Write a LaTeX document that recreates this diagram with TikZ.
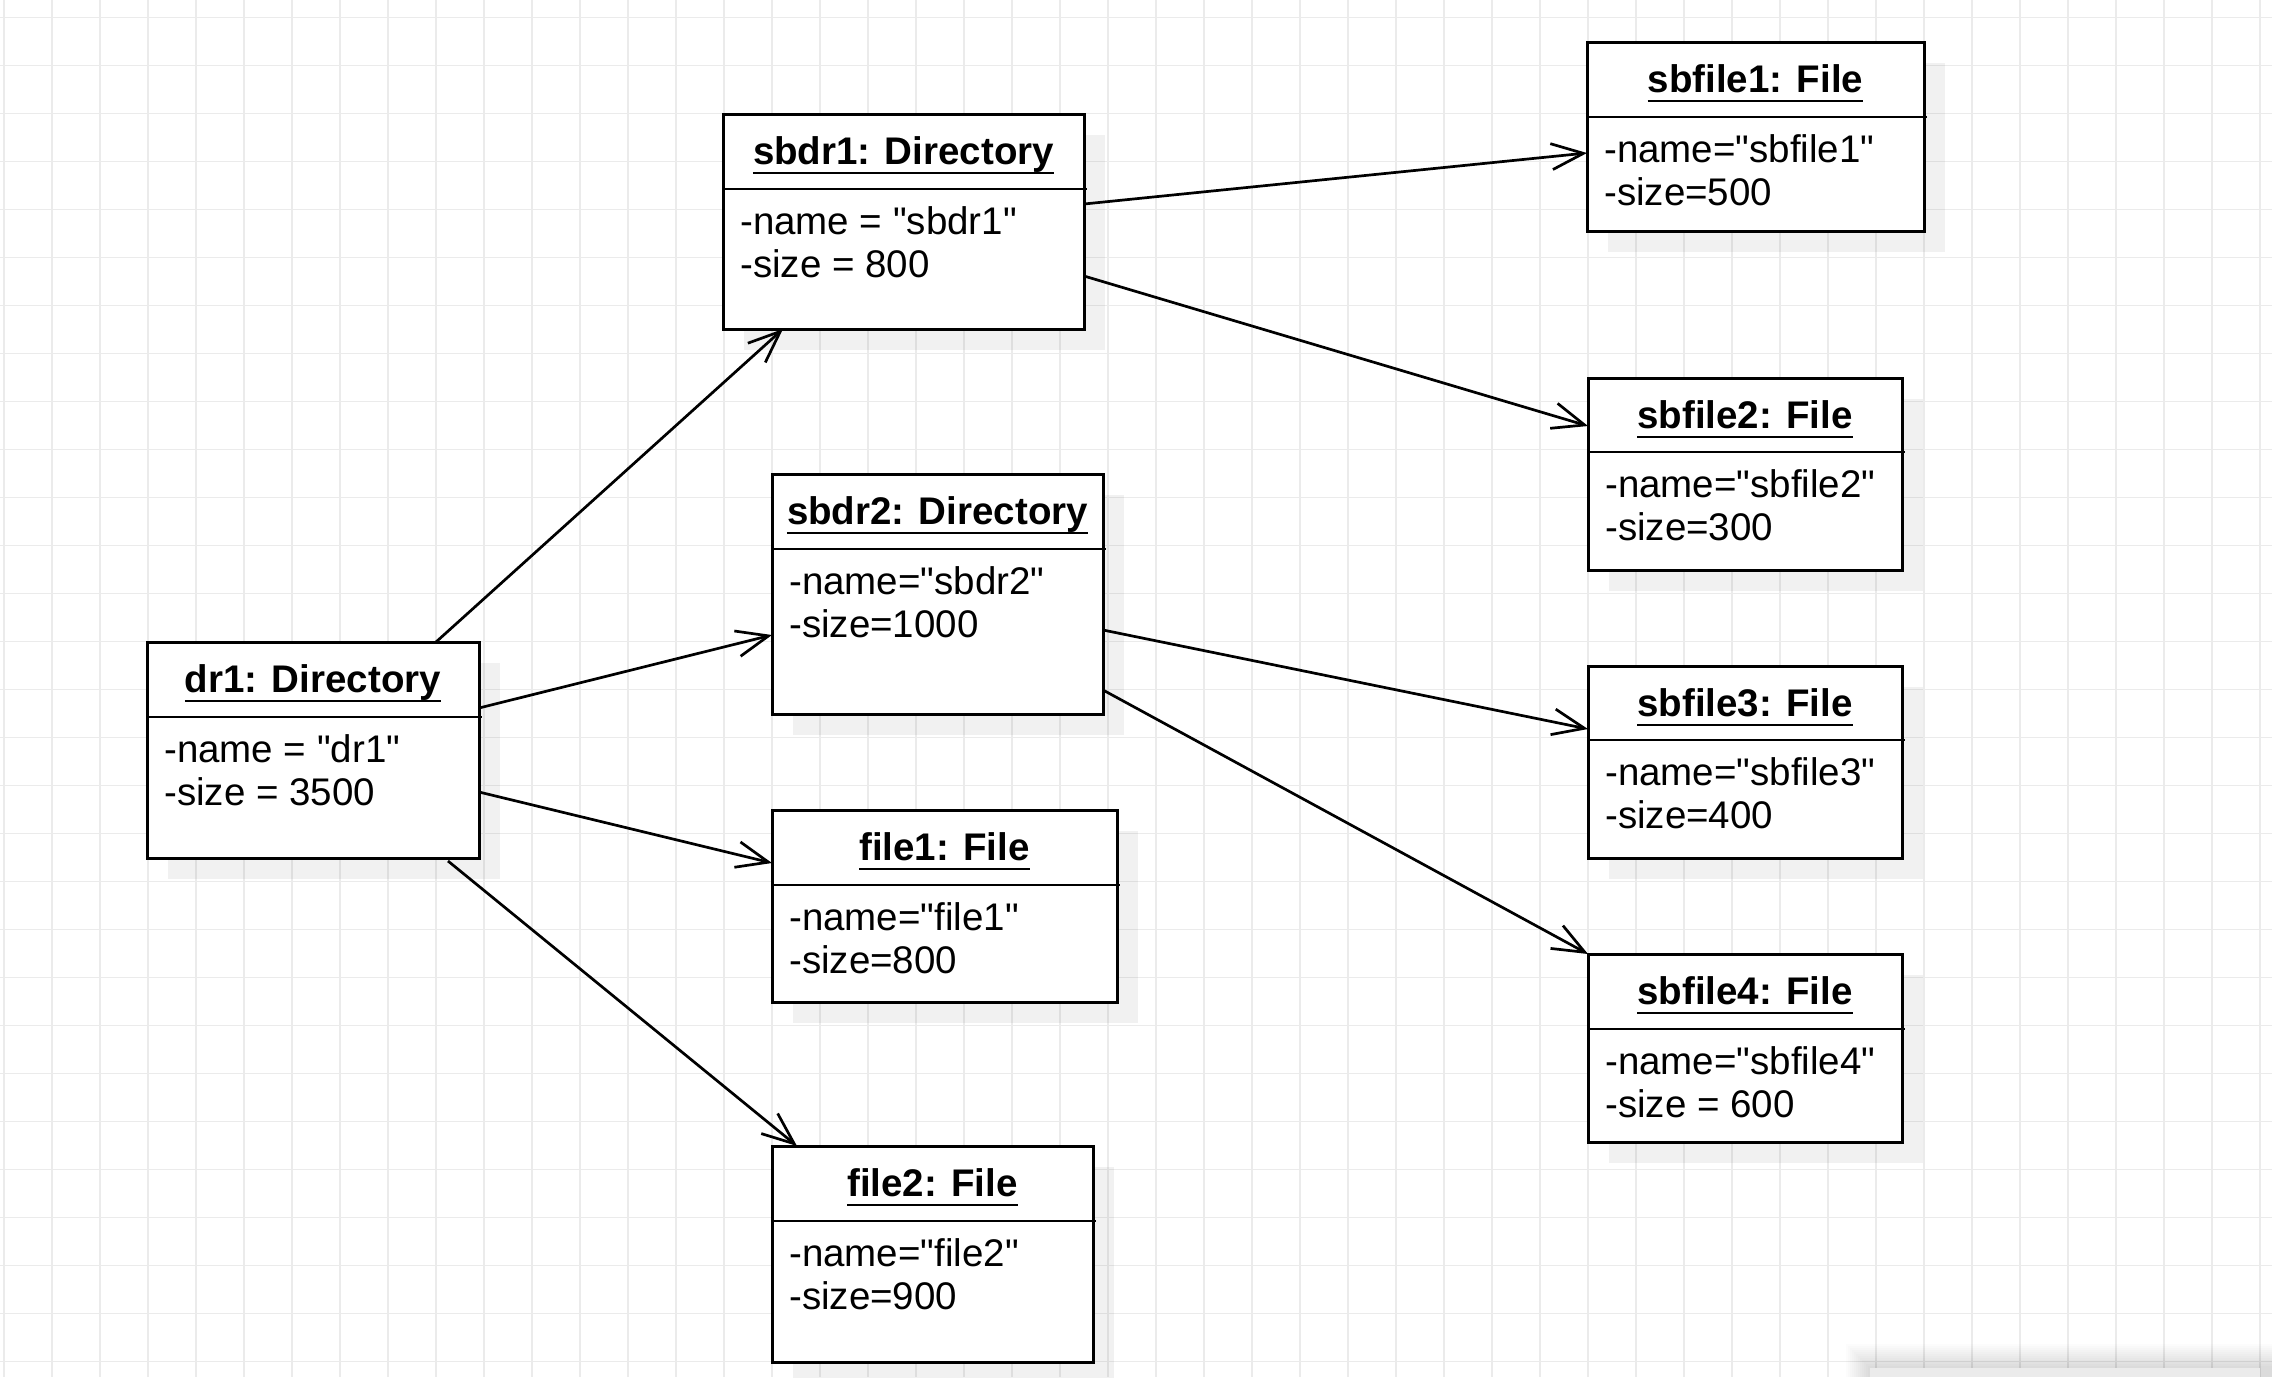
\documentclass[tikz,border=0pt]{standalone}
\usepackage{fontspec}
\setmainfont{Liberation Sans}[Ligatures=TeXOff]
\usetikzlibrary{arrows.meta}
\tikzset{
 objbox/.style={draw=black, line width=3pt, fill=white, inner sep=0pt, outer sep=0pt},
 divline/.style={line width=2.6pt},
 titletext/.style={font=\fontsize{38.5}{44}\selectfont\bfseries, inner sep=0pt, anchor=base},
 attrtext/.style={font=\fontsize{38.5}{44}\selectfont, inner sep=0pt, anchor=base west},
 uline/.style={line width=2.6pt},
 conn/.style={line width=2.7pt, -{Straight Barb[length=32pt,width=26pt]}},
 gridline/.style={draw=black!8, line width=1.4pt},
 shadowbox/.style={fill=black, fill opacity=0.055},
}
\newcommand\umlobj[9]{%
 \fill[shadowbox] (#2+21,#3+21) rectangle (#4+21,#5+21);
 \node[objbox, anchor=north west, minimum width=#4pt-#2pt, minimum height=#5pt-#3pt] (#1) at (#2,#3) {};
 \draw[divline] (#2,#6) -- (#4+3,#6);
 \node[titletext] (#1t) at ({(#2+#4)/2},#3+50.5) {#7};
 \draw[uline] ([yshift=-8.3pt]#1t.base west) -- ([yshift=-8.3pt]#1t.base east);
 \node[attrtext] (#1a) at (#2+17,#6+45) {#8};
 \node[attrtext] (#1b) at (#2+17,#6+88.3) {#9};
}
\begin{document}
\begin{tikzpicture}[x=1pt,y=-1pt]
\useasboundingbox (0,0) rectangle (2272,1377);
\fill[white] (0,0) rectangle (2272,1377);
% grid
\foreach \k in {0,...,47} \draw[gridline] (4+48*\k,0) -- (4+48*\k,1377);
\foreach \k in {0,...,28} \draw[gridline] (0,17.7+48*\k) -- (2272,17.7+48*\k);
% bottom-right panel
\foreach \i in {1,...,12} \fill[black, opacity=0.012] (1870-2*\i,1368-2*\i) rectangle (2272,1377);
\fill[black!8] (1870,1368) rectangle (2260,1377);
% objects
\umlobj{dr1}{147}{642}{479}{858}{717}{dr1: Directory}{-name = "dr1"}{-size = 3500}
\umlobj{sbdr1}{723}{114}{1084}{329}{189}{sbdr1: Directory}{-name = "sbdr1"}{-size = 800}
\umlobj{sbdr2}{772}{474}{1103}{714}{549}{sbdr2: Directory}{-name="sbdr2"}{-size=1000}
\umlobj{file1}{772}{810}{1117}{1002}{885}{file1: File}{-name="file1"}{-size=800}
\umlobj{file2}{772}{1146}{1093}{1362}{1221}{file2: File}{-name="file2"}{-size=900}
\umlobj{sbfile1}{1587}{42}{1924}{231}{117}{sbfile1: File}{-name="sbfile1"}{-size=500}
\umlobj{sbfile2}{1588}{378}{1902}{570}{452}{sbfile2: File}{-name="sbfile2"}{-size=300}
\umlobj{sbfile3}{1588}{666}{1902}{858}{740}{sbfile3: File}{-name="sbfile3"}{-size=400}
\umlobj{sbfile4}{1588}{954}{1902}{1142}{1029}{sbfile4: File}{-name="sbfile4"}{-size = 600}
% connectors
\draw[conn] ([shift={(289,0)}]dr1.north west) -- ([shift={(60,0)}]sbdr1.south west);
\draw[conn] ([shift={(0,66)}]dr1.north east) -- ([shift={(0,161)}]sbdr2.north west);
\draw[conn] ([shift={(0,150)}]dr1.north east) -- ([shift={(0,53)}]file1.north west);
\draw[conn] ([shift={(301,3)}]dr1.south west) -- ([shift={(25,0)}]file2.north west);
\draw[conn] ([shift={(0,90)}]sbdr1.north east) -- ([shift={(0,111)}]sbfile1.north west);
\draw[conn] ([shift={(0,162)}]sbdr1.north east) -- ([shift={(0,48)}]sbfile2.north west);
\draw[conn] ([shift={(0,156)}]sbdr2.north east) -- ([shift={(0,63)}]sbfile3.north west);
\draw[conn] ([shift={(0,216)}]sbdr2.north east) -- (sbfile4.north west);
\end{tikzpicture}
\end{document}
